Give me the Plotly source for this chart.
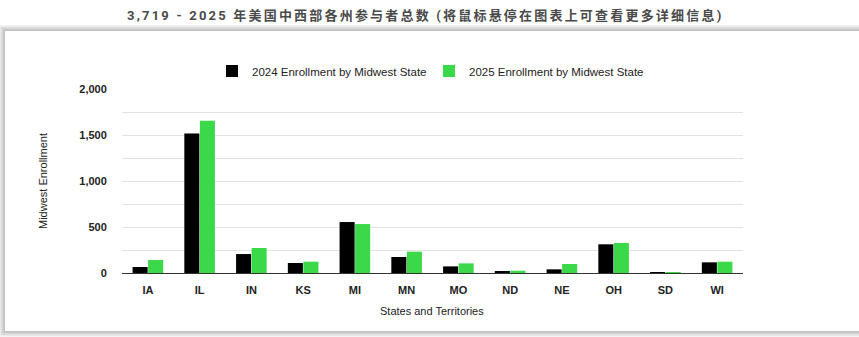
import plotly.graph_objects as go

states = ["IA", "IL", "IN", "KS", "MI", "MN", "MO", "ND", "NE", "OH", "SD", "WI"]
enroll_2024 = [65, 1517, 206, 109, 554, 174, 72, 12, 40, 312, 8, 116]
enroll_2025 = [141, 1655, 272, 123, 532, 232, 105, 25, 98, 326, 8, 123]
y_tick_vals = [0, 250, 500, 750, 1000, 1250, 1500, 1750, 2000]
y_tick_text = ["0", "", "500", "", "1,000", "", "1,500", "", "2,000"]

title_text = "3,719 - 2025 年美国中西部各州参与者总数 (将鼠标悬停在图表上可查看更多详细信息)"
series_names = ["2024 Enrollment by Midwest State", "2025 Enrollment by Midwest State"]

W, H = 859, 337
PL, PR, PT, PB = 122, 743, 89, 273  # plot area in pixels


def px_x(px):
    return (px - PL) / (PR - PL)


def px_y(py):
    return (PB - py) / (PB - PT)


fig = go.Figure()
fig.add_trace(go.Bar(x=states, y=enroll_2024, name=series_names[0],
                     marker=dict(color="#000000", line=dict(width=0))))
fig.add_trace(go.Bar(x=states, y=enroll_2025, name=series_names[1],
                     marker=dict(color="#3BD94A", line=dict(width=0))))

shapes = []
# card shadow
for i in range(6, 0, -1):
    shapes.append(dict(type="rect", xref="paper", yref="paper", layer="below",
                       x0=px_x(5 - i), x1=px_x(W + 20), y0=px_y(331 + i), y1=px_y(31 - i),
                       fillcolor="rgba(0,0,0,0.045)", line=dict(width=0)))
shapes.append(dict(type="rect", xref="paper", yref="paper", layer="below",
                   x0=px_x(5), x1=px_x(W + 20), y0=px_y(331), y1=px_y(31),
                   fillcolor="#ffffff", line=dict(width=0)))

annotations = [
    dict(text='<b><span style="letter-spacing:2.2px">' + title_text + '</span></b>',
         xref="paper", yref="paper", x=px_x(425), y=px_y(16),
         xanchor="center", yanchor="middle", showarrow=False,
         font=dict(family="Roboto, 'Noto Sans CJK SC', sans-serif", size=13, color="#4a4a4a")),
    dict(text="Midwest Enrollment", xref="paper", yref="paper", x=px_x(43), y=px_y(181),
         xanchor="center", yanchor="middle", textangle=-90, showarrow=False,
         font=dict(family="Arial, 'Liberation Sans', sans-serif", size=11, color="#222222")),
    dict(text="States and Territories", xref="paper", yref="paper", x=px_x(432), y=px_y(311),
         xanchor="center", yanchor="middle", showarrow=False,
         font=dict(family="Arial, 'Liberation Sans', sans-serif", size=11, color="#222222")),
]

fig.update_layout(
    width=W, height=H,
    margin=dict(l=PL, r=W - PR, t=PT, b=H - PB, pad=0),
    paper_bgcolor="#ffffff", plot_bgcolor="rgba(0,0,0,0)",
    barmode="group", bargap=0.4, bargroupgap=0.03,
    font=dict(family="Arial, 'Liberation Sans', sans-serif", size=11, color="#222222"),
    showlegend=True,
    legend=dict(orientation="h", x=px_x(212), xanchor="left", y=px_y(71), yanchor="middle",
                font=dict(size=11.5, color="#222222"), bgcolor="rgba(0,0,0,0)",
                itemwidth=30, traceorder="normal", entrywidth=172, entrywidthmode="pixels"),
    shapes=shapes,
    annotations=annotations,
    xaxis=dict(type="category", range=[-0.5, 11.5], showgrid=False, showline=True,
               linecolor="#333333", linewidth=1, ticks="outside", ticklen=7,
               tickcolor="rgba(0,0,0,0)", tickfont=dict(size=11, color="#222222",
                                                          family="Arial, 'Liberation Sans', sans-serif"),
               tickprefix="<b>", ticksuffix="</b>", fixedrange=True),
    yaxis=dict(range=[0, 2000], tickvals=y_tick_vals, ticktext=["<b>" + t + "</b>" if t else "" for t in y_tick_text],
               showgrid=True, gridcolor="#e2e2e2", gridwidth=1, zeroline=False,
               showline=False, ticks="outside", ticklen=12, tickcolor="rgba(0,0,0,0)",
               tickfont=dict(size=11, color="#222222"), fixedrange=True),
)

fig.write_html("out.html")
